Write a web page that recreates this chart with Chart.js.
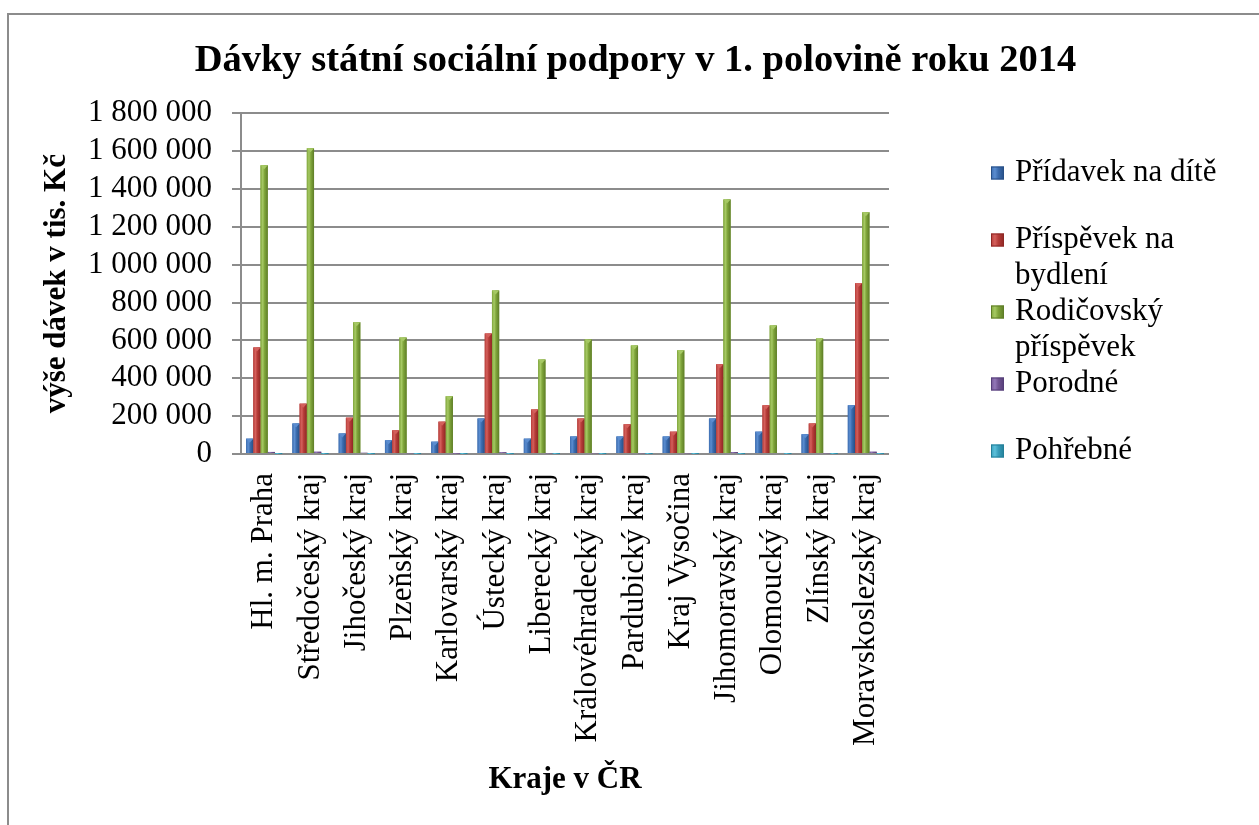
<!DOCTYPE html>
<html>
<head>
<meta charset="utf-8">
<script src="https://cdn.jsdelivr.net/npm/chart.js@4/dist/chart.umd.min.js"></script>
<style>
  html, body { margin: 0; padding: 0; background: #ffffff; overflow: hidden; }
  #wrap { position: relative; width: 1259px; height: 825px; }
  #frame { position: absolute; left: 7px; top: 13px; width: 1400px; height: 1000px;
           border-top: 2px solid #8c8c8c; border-left: 2px solid #8c8c8c; }
  canvas { position: absolute; left: 0; top: 0; }
</style>
</head>
<body>
<div id="wrap">
  <div id="frame"></div>
  <canvas id="c" width="1259" height="825"></canvas>
</div>
<script>
const chartTitle = 'Dávky státní sociální podpory v 1. polovině roku 2014';
const yAxisTitle = 'výše dávek v tis. Kč';
const xAxisTitle = 'Kraje v ČR';

const categories = [
  'Hl. m. Praha', 'Středočeský kraj', 'Jihočeský kraj', 'Plzeňský kraj',
  'Karlovarský kraj', 'Ústecký kraj', 'Liberecký kraj', 'Královéhradecký kraj',
  'Pardubický kraj', 'Kraj Vysočina', 'Jihomoravský kraj', 'Olomoucký kraj',
  'Zlínský kraj', 'Moravskoslezský kraj'
];

const seriesNames = ['Přídavek na dítě', 'Příspěvek na bydlení', 'Rodičovský příspěvek', 'Porodné', 'Pohřebné'];

const pridavekNaDite = [81000, 161000, 108000, 72000, 65000, 187000, 81000, 92000, 92000, 92000, 187000, 118000, 104000, 257000];
const prispevekNaBydleni = [563000, 266000, 192000, 125000, 171000, 636000, 235000, 187000, 157000, 118000, 474000, 257000, 161000, 903000];
const rodicovskyPrispevek = [1525000, 1615000, 696000, 615000, 305000, 864000, 499000, 605000, 573000, 548000, 1345000, 679000, 610000, 1277000];
const porodne = [11000, 12000, 6000, 4500, 3000, 9000, 4000, 4500, 4500, 4500, 10000, 5500, 4500, 12000];
const pohrebne = [500, 600, 350, 300, 150, 450, 250, 300, 300, 300, 550, 350, 300, 600];

const yTickMax = 1800000;
const yTickStep = 200000;

const seriesLight = ['#5b8dd0', '#d4605c', '#a6c964', '#9378b8', '#5cc0da'];
const seriesDark  = ['#274f86', '#8e2724', '#5e7d27', '#553e78', '#237f98'];
const seriesMid   = ['#3c6db0', '#b73d39', '#80a63b', '#735694', '#3a9fbc'];

const serif = "'Liberation Serif', 'Times New Roman', serif";

function fmt(v) {
  return String(v).replace(/\B(?=(\d{3})+(?!\d))/g, ' ');
}

function barGradient(ctx, left, right, i) {
  const g = ctx.createLinearGradient(left, 0, right, 0);
  g.addColorStop(0, seriesMid[i]);
  g.addColorStop(0.3, seriesLight[i]);
  g.addColorStop(0.55, seriesMid[i]);
  g.addColorStop(1, seriesDark[i]);
  return g;
}

const bevelPlugin = {
  id: 'bevel',
  afterDatasetsDraw(chart) {
    const ctx = chart.ctx;
    ctx.save();
    chart.data.datasets.forEach((ds, i) => {
      const meta = chart.getDatasetMeta(i);
      meta.data.forEach(bar => {
        const p = bar.getProps(['x', 'y', 'base', 'width'], true);
        const left = p.x - p.width / 2, right = p.x + p.width / 2;
        const top = Math.min(p.y, p.base), h = Math.abs(p.base - p.y);
        if (h <= 0) return;
        ctx.fillStyle = barGradient(ctx, left, right, i);
        ctx.fillRect(left, top, right - left, h);
        if (h > 6) {
          ctx.fillStyle = seriesLight[i];
          ctx.beginPath();
          ctx.moveTo(left, top);
          ctx.lineTo(right, top);
          ctx.lineTo(p.x, top + Math.min(4, h / 2));
          ctx.closePath();
          ctx.fill();
        }
      });
    });
    ctx.restore();
  }
};

const sideLegendPlugin = {
  id: 'sideLegend',
  afterDraw(chart) {
    const ctx = chart.ctx;
    const area = chart.chartArea;
    const boxX = area.right + 102;
    const textX = boxX + 24;
    const maxW = 220;
    const lineH = 36;
    let y = 173;
    ctx.save();
    ctx.font = '31px ' + serif;
    ctx.textBaseline = 'middle';
    ctx.fillStyle = '#000000';
    chart.data.datasets.forEach((ds, i) => {
      const words = ds.label.split(' ');
      const lines = [];
      let cur = '';
      words.forEach(w => {
        const test = cur ? cur + ' ' + w : w;
        if (ctx.measureText(test).width > maxW && cur) { lines.push(cur); cur = w; }
        else cur = test;
      });
      if (cur) lines.push(cur);
      const s = 13;
      ctx.fillStyle = barGradient(ctx, boxX, boxX + s, i);
      ctx.fillRect(boxX, y - s / 2, s, s);
      ctx.strokeStyle = seriesDark[i];
      ctx.lineWidth = 1;
      ctx.strokeRect(boxX + 0.5, y - s / 2 + 0.5, s - 1, s - 1);
      ctx.fillStyle = '#000000';
      lines.forEach((ln, k) => ctx.fillText(ln, textX, y + k * lineH));
      y += Math.max(67, lines.length * lineH);
    });
    ctx.restore();
  }
};

const seriesData = [pridavekNaDite, prispevekNaBydleni, rodicovskyPrispevek, porodne, pohrebne];

new Chart(document.getElementById('c'), {
  type: 'bar',
  data: {
    labels: categories,
    datasets: seriesData.map((d, i) => ({
      label: seriesNames[i],
      data: d,
      backgroundColor: seriesMid[i],
      borderWidth: 0,
      categoryPercentage: 0.78,
      barPercentage: 1.0
    }))
  },
  options: {
    responsive: false,
    animation: false,
    events: [],
    layout: { padding: { top: 0, left: 14, right: 2, bottom: 0 } },
    plugins: {
      legend: { display: false },
      tooltip: { enabled: false },
      title: {
        display: true,
        text: chartTitle,
        color: '#000000',
        font: { family: serif, size: 38.5, weight: 'bold', lineHeight: 1.2 },
        padding: { top: 37.5, bottom: 29.6 }
      }
    },
    scales: {
      x: {
        grid: { display: false, drawTicks: false },
        border: { display: false },
        ticks: {
          color: '#000000',
          font: { family: serif, size: 31 },
          minRotation: 90, maxRotation: 90,
          autoSkip: false,
          padding: 19
        },
        title: {
          display: true,
          text: xAxisTitle,
          color: '#000000',
          font: { family: serif, size: 31, weight: 'bold', lineHeight: 1.2 },
          padding: { top: 0, bottom: 26 }
        },
        afterFit(s) { s.height = 371; }
      },
      y: {
        min: 0,
        max: yTickMax,
        ticks: {
          stepSize: yTickStep,
          autoSkip: false,
          color: '#000000',
          font: { family: serif, size: 31 },
          padding: 20,
          callback: v => fmt(v)
        },
        grid: { color: '#8c8c8c', lineWidth: 2, tickLength: 9, drawTicks: true },
        border: { display: true, color: '#8c8c8c', width: 2 },
        title: {
          display: true,
          text: yAxisTitle,
          color: '#000000',
          font: { family: serif, size: 31, weight: 'bold', lineHeight: 1.2 },
          padding: { top: 24, bottom: 0 }
        },
        afterFit(s) { s.width = 227; }
      },
      yR: {
        position: 'right',
        display: true,
        grid: { display: false, drawTicks: false },
        border: { display: false },
        ticks: { display: false },
        afterFit(s) { s.width = 368; }
      }
    }
  },
  plugins: [bevelPlugin, sideLegendPlugin]
});
</script>
</body>
</html>
